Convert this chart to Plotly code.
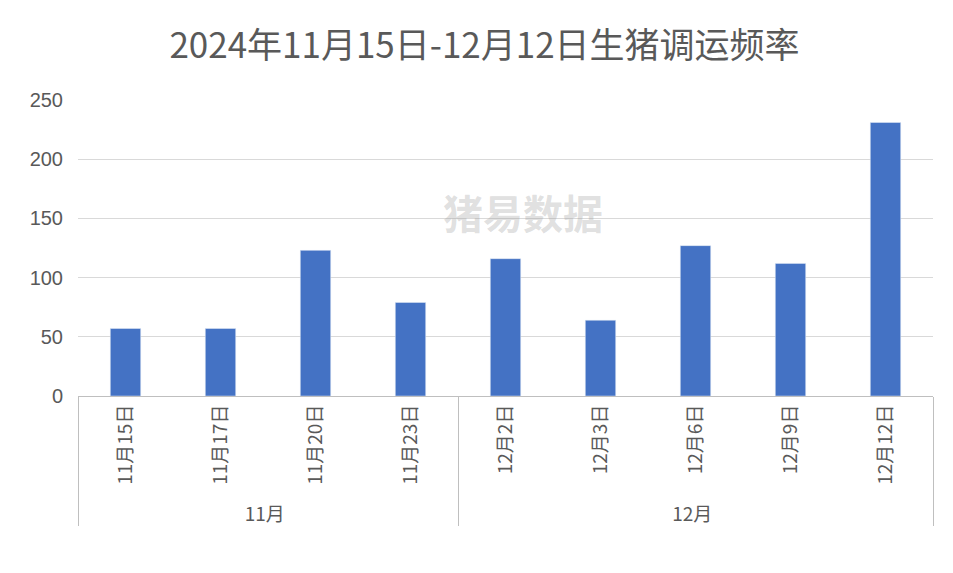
import plotly.graph_objects as go

months = ["11月"]*4 + ["12月"]*5
days = ["11月15日","11月17日","11月20日","11月23日","12月2日","12月3日","12月6日","12月9日","12月12日"]
values = [57, 57, 123, 79, 116, 64, 127, 112, 231]

fig = go.Figure(go.Bar(x=[months, days], y=values, marker_color="#4472C4", width=0.32))
fig.update_layout(
    width=953, height=573, paper_bgcolor="white", plot_bgcolor="white",
    margin=dict(l=70, r=28, t=92, b=185),
    font=dict(family="Noto Sans CJK SC", size=19, color="#595959"),
    title=dict(text="2024年11月15日-12月12日生猪调运频率", x=0.5, y=0.955, xanchor="center",
               font=dict(size=35, color="#595959")),
    showlegend=False, bargap=0.68,
)
fig.update_yaxes(range=[0, 250], dtick=50, gridcolor="#D9D9D9", zeroline=False,
                 tickfont=dict(family="Liberation Sans", size=20), ticklabelstandoff=14)
fig.update_xaxes(tickangle=-90, showdividers=True, dividercolor="#BFBFBF", showline=True,
                 linecolor="#BFBFBF", tickfont=dict(size=19))
fig.add_annotation(text="<b>猪易数据</b>", xref="paper", yref="paper", x=0.52, y=0.62,
                   showarrow=False, font=dict(size=40, color="rgba(150,150,150,0.3)"))
fig.write_html("out.html")
